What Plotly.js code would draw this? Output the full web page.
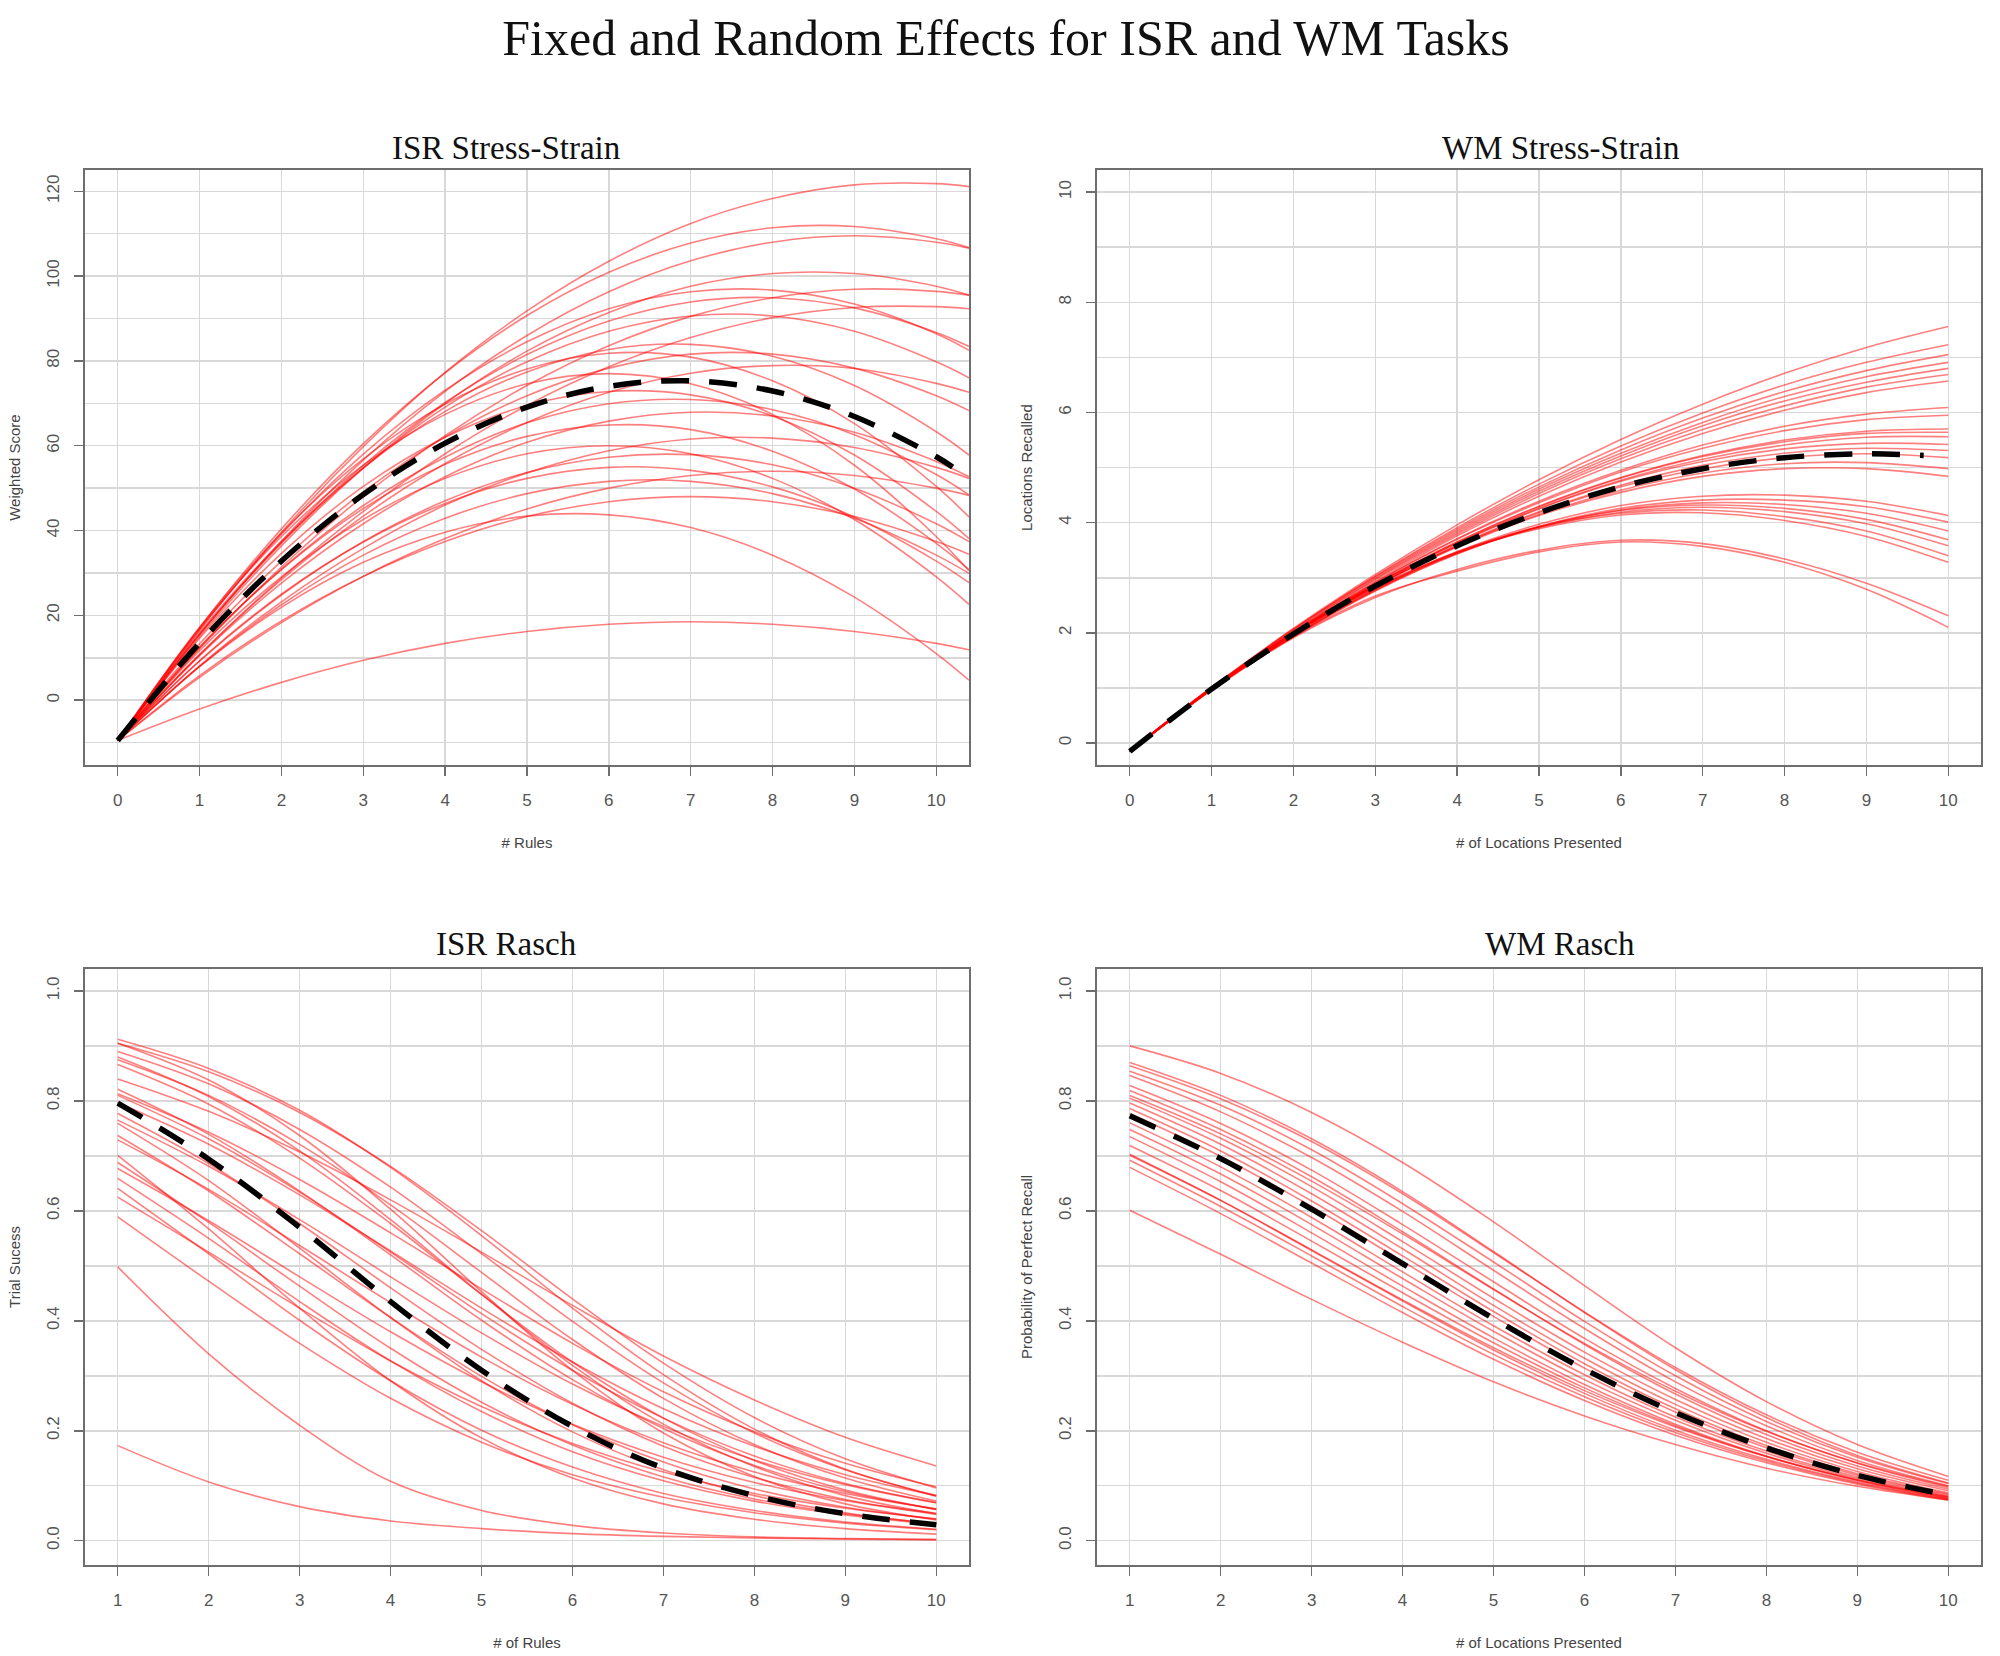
<!DOCTYPE html>
<html>
<head>
<meta charset="utf-8">
<script src="https://cdn.plot.ly/plotly-3.0.1.min.js"></script>
<style>html,body{margin:0;padding:0;background:#fff;}#chart{width:2000px;height:1656px;}</style>
</head>
<body>
<div id="chart"></div>
<script>
// ---------- ISR Stress-Strain (top-left) ----------
const isrSSx = [0,1,2,3,4,5,6,7,8,9,10,10.4];
const isrSSFixedX = [0,1,2,3,4,5,6,7,8,9,10,10.2];
const isrSSFixed = [-9.5,13.5,32.8,48.5,60.6,69.1,74.0,75.3,72.9,66.9,57.4,55.0];
const isrSSRandom = [
  [-9.5,16.5,39.6,59.8,77.3,91.8,103.5,112.4,118.3,121.5,121.8,121.1],
  [-9.5,17.1,40.4,60.5,77.2,90.7,100.9,107.8,111.4,111.7,108.8,106.7],
  [-9.5,15.5,37.5,56.6,72.8,86.0,96.3,103.6,108.0,109.5,108.0,106.6],
  [-9.5,15.0,36.4,54.7,70.0,82.3,91.4,97.6,100.6,100.6,97.6,95.5],
  [-9.5,16.7,39.2,58.0,73.1,84.5,92.3,96.3,96.7,93.4,86.4,82.5],
  [-9.5,12.2,31.4,48.1,62.4,74.2,83.6,90.5,94.9,96.9,96.4,95.5],
  [-9.5,15.6,37.2,55.4,70.2,81.5,89.4,93.9,94.9,92.5,86.7,83.4],
  [-9.5,15.5,37.0,54.8,69.1,79.8,87.0,90.6,90.6,87.0,79.8,76.0],
  [-9.5,17.2,39.4,56.9,69.8,78.1,81.8,80.9,75.3,65.2,50.4,43.2],
  [-9.5,16.0,37.4,54.8,68.1,77.4,82.7,83.9,81.1,74.2,63.3,57.8],
  [-9.5,13.3,32.8,49.1,62.1,71.8,78.3,81.6,81.6,78.3,71.8,68.3],
  [-9.5,10.8,28.4,43.4,55.8,65.5,72.6,77.1,78.9,78.2,74.7,72.6],
  [-9.5,16.9,38.6,55.4,67.4,74.6,77.0,74.6,67.4,55.4,38.6,30.5],
  [-9.5,14.6,34.6,50.4,62.0,69.5,72.8,72.0,67.0,57.8,44.5,38.1],
  [-9.5,12.4,30.9,45.9,57.3,65.4,69.9,70.9,68.5,62.6,53.2,48.4],
  [-9.5,10.5,27.6,41.6,52.7,60.8,65.8,67.9,67.0,63.2,56.3,52.7],
  [-9.5,12.6,30.8,45.2,55.6,62.2,64.9,63.8,58.7,49.8,37.0,30.8],
  [-9.5,8.1,23.2,35.8,46.0,53.6,58.8,61.6,61.8,59.6,54.9,52.3],
  [-9.5,11.7,29.1,42.6,52.3,58.1,60.0,58.1,52.3,42.6,29.1,22.6],
  [-9.5,9.2,24.8,37.4,47.0,53.7,57.3,57.9,55.5,50.0,41.6,37.4],
  [-9.5,9.3,25.0,37.3,46.4,52.3,54.9,54.2,50.3,43.2,32.8,27.7],
  [-9.5,5.4,18.3,29.2,38.1,45.1,50.0,53.0,54.0,53.0,50.0,48.3],
  [-9.5,8.0,22.5,34.2,42.9,48.7,51.6,51.6,48.7,42.9,34.2,29.9],
  [-9.5,5.8,18.7,29.2,37.4,43.3,46.8,48.0,46.8,43.3,37.4,34.4],
  [-9.5,7.9,21.9,32.5,39.6,43.4,43.7,40.7,34.2,24.3,11.0,4.7],
  [-9.5,-2.1,4.2,9.4,13.4,16.2,17.9,18.5,17.9,16.2,13.4,11.9],
  [-9.5,10.7,28.8,44.5,58.1,69.5,78.6,85.5,90.2,92.6,92.8,92.3]
];

// ---------- WM Stress-Strain (top-right) ----------
const wmSSx = [0,1,2,3,4,5,6,7,8,9,10];
const wmSSFixedX = [0,1,2,3,4,5,6,7,8,9,9.7];
const wmSSFixed = [-0.15,0.98,1.98,2.85,3.58,4.18,4.65,4.98,5.18,5.25,5.22];
const wmSSRandom = [
  [-0.15,1.01,2.08,3.06,3.96,4.78,5.51,6.15,6.71,7.18,7.56],
  [-0.15,1.00,2.07,3.03,3.91,4.70,5.39,5.99,6.50,6.91,7.23],
  [-0.15,1.00,2.06,3.02,3.88,4.65,5.32,5.90,6.38,6.76,7.05],
  [-0.15,1.00,2.05,3.00,3.85,4.61,5.26,5.82,6.29,6.65,6.91],
  [-0.15,0.99,2.03,2.98,3.82,4.57,5.21,5.76,6.21,6.55,6.80],
  [-0.15,0.98,2.01,2.93,3.76,4.48,5.10,5.62,6.04,6.36,6.57],
  [-0.15,0.99,2.02,2.96,3.79,4.53,5.16,5.69,6.12,6.46,6.69],
  [-0.15,0.98,2.00,2.91,3.71,4.39,4.95,5.41,5.75,5.97,6.09],
  [-0.15,0.99,2.01,2.91,3.70,4.36,4.92,5.35,5.67,5.87,5.95],
  [-0.15,0.98,1.99,2.88,3.65,4.30,4.82,5.22,5.50,5.66,5.70],
  [-0.15,0.98,2.00,2.88,3.65,4.29,4.81,5.20,5.47,5.62,5.64],
  [-0.15,0.98,1.99,2.87,3.62,4.26,4.77,5.15,5.41,5.55,5.56],
  [-0.15,0.99,2.00,2.88,3.63,4.25,4.75,5.11,5.34,5.44,5.42],
  [-0.15,0.98,1.98,2.85,3.59,4.20,4.68,5.04,5.26,5.35,5.31],
  [-0.15,0.98,1.98,2.85,3.58,4.18,4.65,4.98,5.18,5.25,5.18],
  [-0.15,0.99,1.99,2.85,3.57,4.15,4.59,4.90,5.07,5.09,4.98],
  [-0.15,0.99,1.99,2.84,3.56,4.13,4.55,4.84,4.98,4.98,4.84],
  [-0.15,0.97,1.94,2.78,3.47,3.97,4.31,4.48,4.50,4.39,4.13],
  [-0.15,0.96,1.93,2.76,3.43,3.93,4.26,4.41,4.41,4.29,4.01],
  [-0.15,0.97,1.94,2.77,3.44,3.92,4.23,4.36,4.33,4.17,3.85],
  [-0.15,0.99,1.96,2.80,3.46,3.93,4.22,4.32,4.26,4.06,3.69],
  [-0.15,0.99,1.96,2.79,3.45,3.91,4.19,4.28,4.20,3.98,3.58],
  [-0.15,1.00,1.99,2.82,3.47,3.92,4.17,4.23,4.11,3.85,3.40],
  [-0.15,1.01,1.99,2.82,3.46,3.89,4.14,4.18,4.04,3.75,3.28],
  [-0.15,0.99,1.93,2.67,3.12,3.47,3.65,3.57,3.28,2.79,2.10],
  [-0.15,0.97,1.91,2.64,3.15,3.50,3.68,3.62,3.34,2.90,2.31]
];

// ---------- ISR Rasch (bottom-left) ----------
const isrRx = [1,2,3,4,5,6,7,8,9,10];
const isrRFixed = [0.796,0.694,0.570,0.435,0.310,0.208,0.132,0.082,0.049,0.029];
const isrRRandom = [
  [0.912,0.859,0.783,0.679,0.555,0.423,0.302,0.203,0.130,0.081],
  [0.905,0.853,0.779,0.681,0.564,0.440,0.323,0.224,0.149,0.096],
  [0.890,0.831,0.748,0.643,0.522,0.399,0.287,0.196,0.129,0.082],
  [0.875,0.810,0.721,0.611,0.488,0.366,0.259,0.175,0.114,0.072],
  [0.866,0.794,0.696,0.577,0.448,0.325,0.223,0.146,0.092,0.057],
  [0.840,0.781,0.707,0.620,0.525,0.428,0.336,0.256,0.188,0.136],
  [0.813,0.743,0.657,0.560,0.458,0.359,0.271,0.198,0.141,0.098],
  [0.797,0.721,0.629,0.527,0.423,0.325,0.240,0.172,0.120,0.082],
  [0.777,0.686,0.577,0.460,0.348,0.250,0.172,0.115,0.075,0.048],
  [0.765,0.681,0.584,0.480,0.378,0.285,0.208,0.147,0.102,0.069],
  [0.737,0.636,0.522,0.406,0.299,0.211,0.143,0.094,0.061,0.039],
  [0.729,0.639,0.537,0.433,0.334,0.248,0.178,0.125,0.086,0.058],
  [0.688,0.579,0.463,0.350,0.252,0.174,0.116,0.076,0.049,0.031],
  [0.677,0.582,0.480,0.380,0.289,0.212,0.152,0.106,0.073,0.050],
  [0.641,0.522,0.401,0.291,0.201,0.134,0.086,0.055,0.034,0.021],
  [0.625,0.525,0.423,0.327,0.244,0.177,0.125,0.086,0.059,0.040],
  [0.589,0.472,0.359,0.259,0.179,0.120,0.079,0.051,0.032,0.020],
  [0.498,0.340,0.210,0.108,0.055,0.028,0.014,0.007,0.004,0.002],
  [0.173,0.107,0.062,0.036,0.022,0.013,0.008,0.005,0.003,0.002],
  [0.880,0.808,0.709,0.584,0.448,0.319,0.212,0.135,0.082,0.049],
  [0.821,0.739,0.636,0.520,0.401,0.293,0.204,0.137,0.089,0.057],
  [0.810,0.731,0.634,0.525,0.413,0.310,0.223,0.154,0.104,0.069],
  [0.759,0.655,0.532,0.406,0.291,0.198,0.129,0.082,0.051,0.031],
  [0.701,0.567,0.423,0.291,0.187,0.114,0.067,0.039,0.022,0.012],
  [0.659,0.550,0.435,0.327,0.235,0.162,0.109,0.072,0.047,0.030],
  [0.905,0.838,0.737,0.603,0.453,0.310,0.196,0.117,0.067,0.038]
];

// ---------- WM Rasch (bottom-right) ----------
const wmRx = [1,2,3,4,5,6,7,8,9,10];
const wmRFixed = [0.773,0.695,0.603,0.504,0.404,0.312,0.233,0.169,0.119,0.083];
const wmRRandom = [
  [0.900,0.850,0.779,0.688,0.580,0.464,0.351,0.253,0.175,0.117],
  [0.864,0.804,0.726,0.631,0.524,0.416,0.315,0.229,0.161,0.110],
  [0.854,0.792,0.711,0.613,0.507,0.399,0.300,0.217,0.152,0.104],
  [0.846,0.780,0.697,0.599,0.492,0.386,0.289,0.209,0.146,0.100],
  [0.828,0.759,0.674,0.575,0.471,0.368,0.277,0.200,0.141,0.097],
  [0.819,0.748,0.662,0.562,0.458,0.357,0.267,0.193,0.136,0.094],
  [0.805,0.732,0.644,0.544,0.441,0.343,0.257,0.186,0.131,0.091],
  [0.796,0.721,0.631,0.531,0.428,0.332,0.248,0.179,0.126,0.087],
  [0.786,0.709,0.618,0.518,0.417,0.322,0.240,0.173,0.122,0.085],
  [0.777,0.699,0.608,0.508,0.408,0.314,0.234,0.169,0.119,0.083],
  [0.760,0.680,0.588,0.489,0.391,0.302,0.225,0.163,0.116,0.081],
  [0.748,0.667,0.575,0.477,0.381,0.293,0.219,0.159,0.113,0.079],
  [0.735,0.653,0.560,0.463,0.369,0.284,0.212,0.154,0.110,0.077],
  [0.703,0.619,0.528,0.436,0.347,0.268,0.201,0.148,0.107,0.076],
  [0.692,0.608,0.518,0.426,0.339,0.262,0.197,0.145,0.105,0.075],
  [0.679,0.595,0.505,0.415,0.330,0.255,0.192,0.142,0.103,0.074],
  [0.601,0.521,0.439,0.361,0.289,0.227,0.175,0.132,0.099,0.074],
  [0.870,0.810,0.731,0.635,0.526,0.415,0.311,0.224,0.155,0.105],
  [0.810,0.740,0.654,0.558,0.457,0.359,0.272,0.199,0.142,0.099],
  [0.701,0.619,0.529,0.438,0.351,0.273,0.207,0.153,0.111,0.080],
  [0.719,0.637,0.545,0.451,0.360,0.278,0.209,0.153,0.110,0.078]
];

// ---------- text ----------
const mainTitle = 'Fixed and Random Effects for ISR and WM Tasks';
const panelTitles = ['ISR Stress-Strain', 'WM Stress-Strain', 'ISR Rasch', 'WM Rasch'];
const xTitles = ['# Rules', '# of Locations Presented', '# of Rules', '# of Locations Presented'];
const yTitles = ['Weighted Score', 'Locations Recalled', 'Trial Sucess', 'Probability of Perfect Recall'];

// ---------- build ----------
const RED = 'rgba(255,0,0,0.5)';
const traces = [];
function addPanel(xs, randoms, fx, fixed, ax) {
  randoms.forEach(ys => traces.push({
    type: 'scatter', mode: 'lines', x: xs, y: ys,
    xaxis: 'x' + ax, yaxis: 'y' + ax, hoverinfo: 'skip', showlegend: false,
    line: {color: RED, width: 1.6, shape: 'spline', smoothing: 1}
  }));
  traces.push({
    type: 'scatter', mode: 'lines', x: fx, y: fixed,
    xaxis: 'x' + ax, yaxis: 'y' + ax, hoverinfo: 'skip', showlegend: false,
    line: {color: '#000', width: 5.5, dash: '28px,20px', shape: 'spline', smoothing: 1}
  });
}
addPanel(isrSSx, isrSSRandom, isrSSFixedX, isrSSFixed, '');
addPanel(wmSSx, wmSSRandom, wmSSFixedX, wmSSFixed, '2');
addPanel(isrRx, isrRRandom, isrRx, isrRFixed, '3');
addPanel(wmRx, wmRRandom, wmRx, wmRFixed, '4');

const SANS = 'Liberation Sans, Arial, sans-serif';
const SERIF = 'Liberation Serif, Times New Roman, serif';
const GRID = '#d8d8d8';
const base = {
  showline: true, mirror: true, linecolor: '#6e6e6e', linewidth: 2,
  ticks: 'outside', ticklen: 9, tickwidth: 1.5, tickcolor: '#6e6e6e',
  showgrid: true, gridcolor: GRID, gridwidth: 1.5, zeroline: false,
  tickfont: {family: SANS, size: 17, color: '#555'}, automargin: false, fixedrange: true
};
function xa(dom, range, t0, anchor, title) {
  return Object.assign({}, base, {domain: dom, range: range, dtick: 1, tick0: t0, anchor: anchor,
    ticklabelstandoff: 10,
    title: {text: title, standoff: 28, font: {family: SANS, size: 15, color: '#444'}}});
}
function ya(dom, range, dt, mdt, anchor, title, fmt) {
  return Object.assign({}, base, {domain: dom, range: range, dtick: dt, tick0: 0, anchor: anchor,
    tickangle: -90, ticklabelstandoff: 8, tickformat: fmt || '',
    minor: {dtick: mdt, tick0: 0, showgrid: true, gridcolor: GRID, gridwidth: 1.5, ticks: ''},
    title: {text: title, standoff: 20, font: {family: SANS, size: 15, color: '#444'}}});
}
const LX = [0.0425, 0.4845], RX = [0.5485, 0.9905], TY = [0.538, 0.8973], BY = [0.055, 0.4149];

const layout = {
  width: 2000, height: 1656, margin: {l: 0, r: 0, t: 0, b: 0},
  paper_bgcolor: '#fff', plot_bgcolor: '#fff', showlegend: false,
  font: {family: SANS},
  title: {text: mainTitle, font: {family: SERIF, size: 50, color: '#111'},
          x: 0.503, xanchor: 'center', y: 1 - 37 / 1656, yref: 'container', yanchor: 'middle'},
  xaxis: xa(LX, [-0.4, 10.4], 0, 'y', xTitles[0]),
  yaxis: ya(TY, [-15.3, 125], 20, 10, 'x', yTitles[0]),
  xaxis2: xa(RX, [-0.4, 10.4], 0, 'y2', xTitles[1]),
  yaxis2: ya(TY, [-0.4, 10.4], 2, 1, 'x2', yTitles[1]),
  xaxis3: xa(LX, [0.64, 10.36], 1, 'y3', xTitles[2]),
  yaxis3: ya(BY, [-0.044, 1.04], 0.2, 0.1, 'x3', yTitles[2], '.1f'),
  xaxis4: xa(RX, [0.64, 10.36], 1, 'y4', xTitles[3]),
  yaxis4: ya(BY, [-0.044, 1.04], 0.2, 0.1, 'x4', yTitles[3], '.1f'),
  annotations: [
    [0.253, 1 - 148 / 1656, panelTitles[0]],
    [0.780, 1 - 148 / 1656, panelTitles[1]],
    [0.253, 1 - 944 / 1656, panelTitles[2]],
    [0.780, 1 - 944 / 1656, panelTitles[3]]
  ].map(a => ({x: a[0], y: a[1], xref: 'paper', yref: 'paper', text: a[2], showarrow: false,
               xanchor: 'center', yanchor: 'middle', font: {family: SERIF, size: 33, color: '#111'}}))
};

Plotly.newPlot('chart', traces, layout, {staticPlot: true, displayModeBar: false});
</script>
</body>
</html>
